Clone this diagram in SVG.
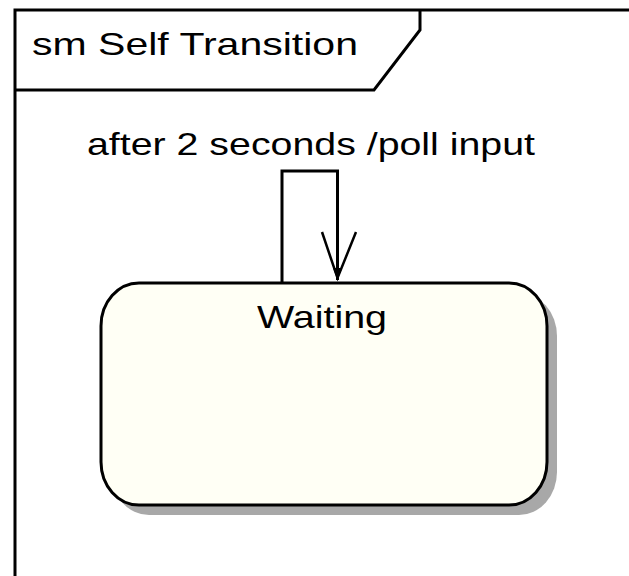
<svg xmlns="http://www.w3.org/2000/svg" width="629" height="576" viewBox="0 0 629 576">
  <style>
    .ln { fill: none; stroke: #000; stroke-width: 3; }
    .txt { font-family: "Liberation Sans", Arial, sans-serif; font-size: 32px; fill: #000; }
  </style>
  <rect width="629" height="576" fill="#fff"/>

  <!-- state machine frame with name tab -->
  <g id="frame">
    <path class="ln" d="M15,576 V10 H629"/>
    <path class="ln" d="M15,90 H374 L420,30 V10"/>
    <text class="txt" x="32" y="55" textLength="326" lengthAdjust="spacingAndGlyphs">sm Self Transition</text>
  </g>

  <!-- state -->
  <g id="waiting">
    <rect x="111" y="293" width="446" height="222" rx="38" ry="43" fill="#a8a8a8"/>
    <rect x="101" y="283" width="446" height="222" rx="38" ry="43" fill="#fffff5" stroke="#000" stroke-width="3"/>
    <text class="txt" x="257" y="328" textLength="130" lengthAdjust="spacingAndGlyphs">Waiting</text>
  </g>

  <!-- self transition -->
  <g id="connectors">
    <path class="ln" d="M282,283 V171 H337.5 V280"/>
    <path fill="none" stroke="#000" stroke-width="2.5" d="M322,232 L337.5,278 L356,232"/>
    <path d="M333,268 L342,268 L337.5,280 Z" fill="#000"/>
    <text class="txt" x="87" y="155" textLength="448" lengthAdjust="spacingAndGlyphs">after 2 seconds /poll input</text>
  </g>
</svg>
